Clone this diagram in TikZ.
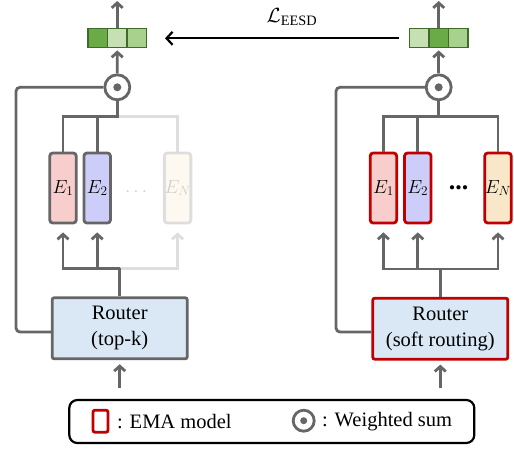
\RequirePackage{fix-cm}
\documentclass[tikz,border=0pt]{standalone}
\usepackage{amsmath}
\usepackage{fontspec}
\setmainfont{Liberation Serif}
\usetikzlibrary{arrows.meta,calc}
\definecolor{dgray}{HTML}{666666}
\definecolor{lgray}{HTML}{DEDEDE}
\definecolor{gdark}{HTML}{6AAA47}
\definecolor{glight}{HTML}{C6E0B4}
\definecolor{gmid}{HTML}{A9D18E}
\definecolor{gborder}{HTML}{3E6B27}
\definecolor{ered}{HTML}{F8CECC}
\definecolor{eblue}{HTML}{CDCDFA}
\definecolor{eyel}{HTML}{F8E8C9}
\definecolor{efade}{HTML}{FDF9F0}
\definecolor{rblue}{HTML}{DAE8F6}
\definecolor{emared}{HTML}{C00000}
\tikzset{
  gline/.style={draw=dgray, line width=2.8pt},
  lline/.style={draw=lgray, line width=2.8pt},
  garr/.style={-{Straight Barb[length=5pt,width=11pt]}},
  barr/.style={draw=black, line width=2.2pt, -{Straight Barb[length=6pt,width=13pt]}},
  vcell/.style={draw=gborder, line width=1.2pt, minimum width=19.3pt, minimum height=19pt, inner sep=0pt},
  wsum/.style={circle, draw=dgray, fill=white, line width=2.8pt, minimum size=25pt, inner sep=0pt},
  expert/.style={draw=dgray, line width=2.8pt, rounded corners=3pt, minimum width=26.5pt, minimum height=70pt, inner sep=0pt, font=\fontsize{19}{22}\selectfont},
  emaexpert/.style={expert, draw=emared},
  router/.style={draw=dgray, fill=rblue, line width=2.8pt, rounded corners=2pt, minimum width=135pt, minimum height=61pt, align=center, inner sep=0pt, font=\fontsize{20.5}{26}\selectfont},
  txt/.style={font=\fontsize{20.5}{24}\selectfont, inner sep=0pt}
}
\begin{document}
\begin{tikzpicture}[x=1pt,y=-1pt]
\useasboundingbox (0,0) rectangle (514,448);

% ---------------- LEFT ----------------
\node[vcell, fill=gdark]  (vL1) at (97.6,38.3) {};
\node[vcell, fill=glight] (vL2) at (117.2,38.3) {};
\node[vcell, fill=gmid]   (vL3) at (136.8,38.3) {};
\coordinate (oL) at (117.2,1);
\draw[gline,garr] (vL2.north) -- (oL);

\node[wsum] (wL) at (117.3,87.3) {};
\fill[dgray] (wL.center) circle (4pt);
\draw[gline,garr,shorten >=2pt] (wL.north) -- (vL2.south);

\node[expert, fill=ered]  (E1L) at (63,188) {$E_1$};
\node[expert, fill=eblue] (E2L) at (97.2,188) {$E_2$};
\node[expert, fill=efade, draw=lgray, text=lgray!85!gray] (ENL) at (177.6,188) {$E_N$};
\node[text=lgray!85!gray, font=\fontsize{19}{20}\selectfont] (dL) at (137.7,192) {$\cdots$};

\coordinate (tbL) at (117.3,116.7);
\draw[lline] (tbL) -| (ENL.north);
\draw[gline] (wL.south) -- (tbL) -| (E1L.north);
\draw[gline] (tbL) -| (E2L.north);

\node[router] (RL) at (119.7,328.3) {Router\\(top-k)};
\coordinate (rbL) at (119.7,268.3);
\draw[lline,garr,shorten >=8pt] (rbL) -| (ENL.south);
\draw[gline] (RL.north) -- (rbL);
\draw[gline,garr,shorten >=8pt] (rbL) -| (E1L.south);
\draw[gline,garr,shorten >=8pt] (rbL) -| (E2L.south);

\coordinate (fbL) at (16,332);
\draw[gline,rounded corners=4pt] (wL.west) -| (fbL) -- (fbL -| RL.west);

\coordinate (inL) at (119.7,388);
\draw[gline,garr,shorten >=4pt] (inL) -- (RL.south);

% ---------------- RIGHT ----------------
\node[vcell, fill=glight] (vR1) at (419.1,38.3) {};
\node[vcell, fill=gdark]  (vR2) at (438.7,38.3) {};
\node[vcell, fill=gmid]   (vR3) at (458.3,38.3) {};
\coordinate (oR) at (438.7,1);
\draw[gline,garr] (vR2.north) -- (oR);

\node[wsum] (wR) at (438.7,87.3) {};
\fill[dgray] (wR.center) circle (4pt);
\draw[gline,garr,shorten >=2pt] (wR.north) -- (vR2.south);

\node[emaexpert, fill=ered]  (E1R) at (383.4,188) {$E_1$};
\node[emaexpert, fill=eblue] (E2R) at (417.8,188) {$E_2$};
\node[emaexpert, fill=eyel]  (ENR) at (498,188) {$E_N$};
\node[font=\fontsize{26}{26}\selectfont\bfseries] (dR) at (458.7,188) {...};

\coordinate (tbR) at (438.7,116.7);
\draw[gline] (wR.south) -- (tbR) -| (E1R.north);
\draw[gline] (tbR) -| (E2R.north);
\draw[gline] (tbR) -| (ENR.north);

\node[router, draw=emared] (RR) at (440.3,328.7) {Router\\(soft routing)};
\coordinate (rbR) at (440.3,269);
\draw[gline] (RR.north) -- (rbR);
\draw[gline,garr,shorten >=8pt] (rbR) -| (E1R.south);
\draw[gline,garr,shorten >=8pt] (rbR) -| (E2R.south);
\draw[gline,garr,shorten >=8pt] (rbR) -| (ENR.south);

\coordinate (fbR) at (336,332);
\draw[gline,rounded corners=4pt] (wR.west) -| (fbR) -- (fbR -| RR.west);

\coordinate (inR) at (440.3,388);
\draw[gline,garr,shorten >=4pt] (inR) -- (RR.south);

% ---------------- EESD ----------------
\draw[barr, shorten <=10pt, shorten >=18pt] (vR1.west) -- (vL3.east);
\node[txt] (lab) at (292,17) {$\mathcal{L}_{\text{EESD}}$};

% ---------------- LEGEND ----------------
\node[draw=black, line width=2.2pt, rounded corners=8pt, minimum width=405pt, minimum height=43pt, inner sep=0pt] (leg) at (271.8,421.5) {};
\node[draw=emared, line width=2.8pt, rounded corners=2pt, minimum width=15pt, minimum height=22pt, inner sep=0pt] (emak) at (100.5,421.2) {};
\node[txt, anchor=west] (emat) at (117,421.5) {: EMA model};
\node[wsum, minimum size=21pt] (wsk) at (303.7,420.7) {};
\fill[dgray] (wsk.center) circle (3.5pt);
\node[txt, anchor=west] (wst) at (322,421.5) {: Weighted sum};
\end{tikzpicture}
\end{document}
